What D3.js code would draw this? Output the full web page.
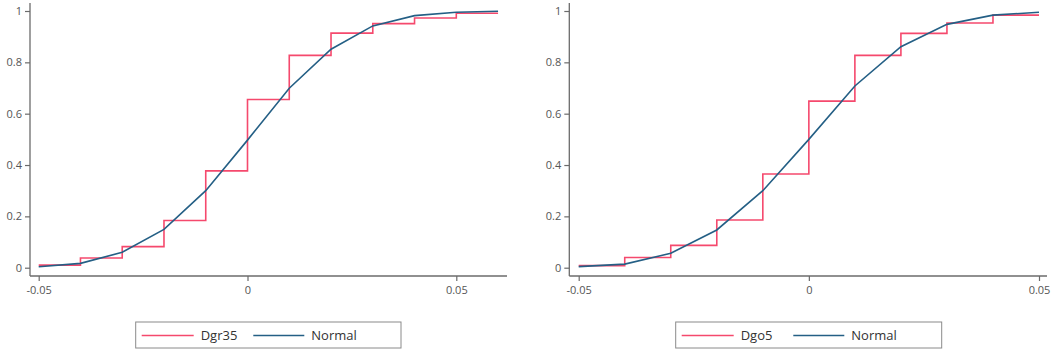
<!DOCTYPE html>
<html>
<head>
<meta charset="utf-8">
<script src="https://cdn.jsdelivr.net/npm/d3@7"></script>
<style>
  body { margin: 0; background: #fff; }
  text { font-family: "Open Sans", "Noto Sans", sans-serif; }
</style>
</head>
<body>
<script>
// grid of x values, steps are 0.01 wide
const stepX = [-0.05, -0.04, -0.03, -0.02, -0.01, 0, 0.01, 0.02, 0.03, 0.04, 0.05];

// left panel
const dgr35 = [0.010, 0.038, 0.082, 0.184, 0.377, 0.655, 0.827, 0.914, 0.951, 0.973, 0.991];
const normalLeftX = [-0.05, -0.04, -0.03, -0.02, -0.01, 0, 0.01, 0.02, 0.03, 0.04, 0.05, 0.06];
const normalLeft = [0.004, 0.017, 0.060, 0.149, 0.300, 0.497, 0.699, 0.851, 0.942, 0.982, 0.995, 0.999];

// right panel
const dgo5 = [0.008, 0.040, 0.087, 0.186, 0.365, 0.649, 0.827, 0.913, 0.953, 0.984];
const normalRightX = [-0.05, -0.04, -0.03, -0.02, -0.01, 0, 0.01, 0.02, 0.03, 0.04, 0.05];
const normalRight = [0.004, 0.014, 0.056, 0.147, 0.300, 0.500, 0.708, 0.861, 0.948, 0.984, 0.995];

const xTicks = [-0.05, 0, 0.05];
const xTickLabels = ["-0.05", "0", "0.05"];
const yTicks = [0, 0.2, 0.4, 0.6, 0.8, 1];
const yTickLabels = ["0", "0.2", "0.4", "0.6", "0.8", "1"];

const RED = "#f5496d", BLUE = "#245f85";

const svg = d3.select("body").append("svg")
    .attr("width", 1059)
    .attr("height", 351);

function panel(opt) {
    const x = d3.scaleLinear().domain([-0.05, 0.05]).range([opt.x0, opt.x1]);
    const y = d3.scaleLinear().domain([0, 1]).range([267.7, 11]);
    const g = svg.append("g");

    // axis lines
    g.append("line")
        .attr("x1", opt.axisX).attr("x2", opt.axisX)
        .attr("y1", 3).attr("y2", 276)
        .attr("stroke", "#6b6b6b").attr("stroke-width", 1.3);
    g.append("line")
        .attr("x1", opt.axisX).attr("x2", opt.axisRight)
        .attr("y1", 276).attr("y2", 276)
        .attr("stroke", "#6b6b6b").attr("stroke-width", 1.3);

    const yAxis = d3.axisLeft(y).tickValues(yTicks)
        .tickFormat((d, i) => yTickLabels[i]).tickSize(5).tickPadding(3);
    const ya = g.append("g").attr("transform", "translate(" + opt.axisX + ",0)").call(yAxis);
    ya.select(".domain").remove();

    const xAxis = d3.axisBottom(x).tickValues(xTicks)
        .tickFormat((d, i) => xTickLabels[i]).tickSize(5).tickPadding(5);
    const xa = g.append("g").attr("transform", "translate(0,276)").call(xAxis);
    xa.select(".domain").remove();

    g.selectAll(".tick line").attr("stroke", "#6b6b6b").attr("stroke-width", 1.2);
    g.selectAll(".tick text").attr("fill", "#555").style("font-size", "11px")
        .style("font-family", "'Open Sans', 'Noto Sans', sans-serif");

    // empirical step line
    const steps = opt.steps.map((v, i) => [stepX[i], v]);
    steps.push([opt.stepEnd, opt.steps[opt.steps.length - 1]]);
    const stepLine = d3.line()
        .x(d => x(d[0]))
        .y(d => y(d[1]))
        .curve(d3.curveStepAfter);
    g.append("path")
        .attr("d", stepLine(steps))
        .attr("fill", "none")
        .attr("stroke", RED)
        .attr("stroke-width", 1.6);

    // normal cdf
    const normLine = d3.line()
        .x((d, i) => x(opt.normalX[i]))
        .y(d => y(d));
    g.append("path")
        .attr("d", normLine(opt.normal))
        .attr("fill", "none")
        .attr("stroke", BLUE)
        .attr("stroke-width", 1.6);

    // legend
    const lg = g.append("g");
    lg.append("rect")
        .attr("x", opt.legX).attr("y", 322)
        .attr("width", opt.legW).attr("height", 26)
        .attr("fill", "#fff").attr("stroke", "#8a8a8a").attr("stroke-width", 1);
    lg.append("line")
        .attr("x1", opt.legX + 6).attr("x2", opt.legX + 58)
        .attr("y1", 335.5).attr("y2", 335.5)
        .attr("stroke", RED).attr("stroke-width", 1.6);
    lg.append("text")
        .attr("x", opt.legX + 65).attr("y", 340)
        .attr("fill", "#333").style("font-size", "13px")
        .text(opt.name);
    lg.append("line")
        .attr("x1", opt.legX + opt.blueOff).attr("x2", opt.legX + opt.blueOff + 51)
        .attr("y1", 335.5).attr("y2", 335.5)
        .attr("stroke", BLUE).attr("stroke-width", 1.6);
    lg.append("text")
        .attr("x", opt.legX + opt.blueOff + 58).attr("y", 340)
        .attr("fill", "#333").style("font-size", "13px")
        .text("Normal");
}

panel({
    x0: 38.7, x1: 456.3, axisX: 30, axisRight: 507,
    steps: dgr35, stepEnd: 0.06,
    normalX: normalLeftX, normal: normalLeft,
    name: "Dgr35", legX: 135.7, legW: 265.3, blueOff: 117.6
});

panel({
    x0: 578.7, x1: 1039, axisX: 569.3, axisRight: 1047,
    steps: dgo5, stepEnd: 0.05,
    normalX: normalRightX, normal: normalRight,
    name: "Dgo5", legX: 675.7, legW: 266, blueOff: 117.6
});
</script>
</body>
</html>
